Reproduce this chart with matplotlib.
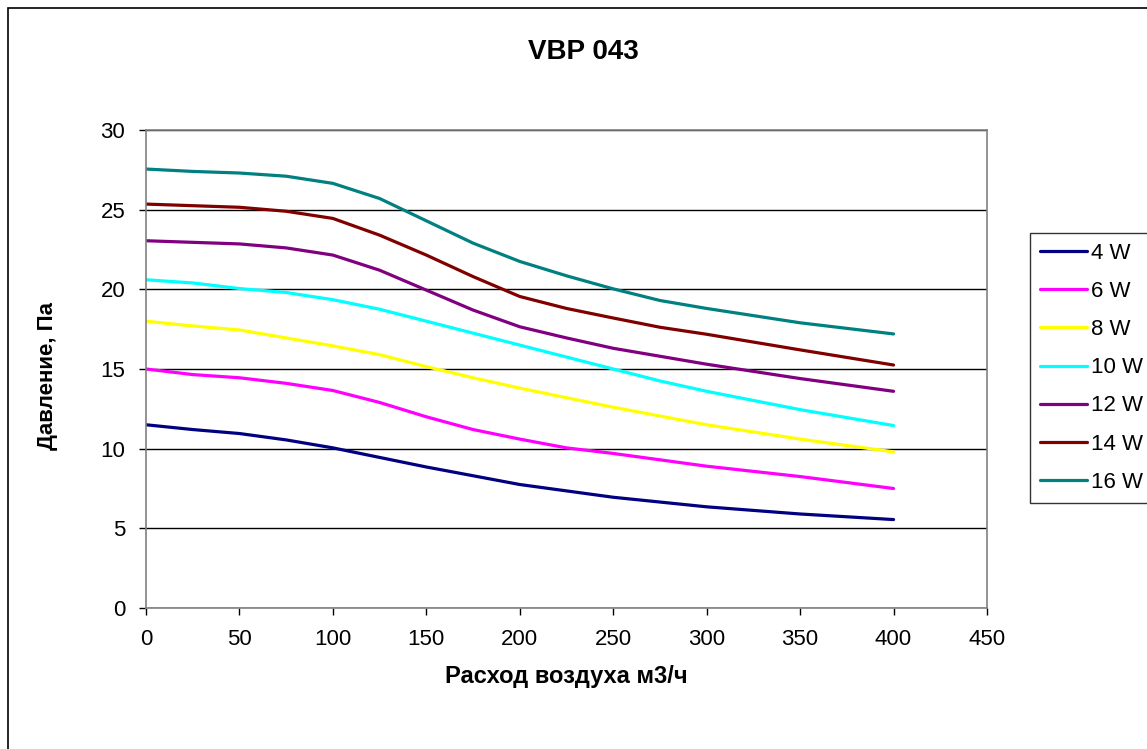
import matplotlib.pyplot as plt
from matplotlib.patches import Rectangle

plt.rcParams['font.family'] = ['Liberation Sans', 'DejaVu Sans']

# airflow, m3/h
flow = [0, 25, 50, 75, 100, 125, 150, 175, 200, 225, 250, 275, 300, 350, 400]

# pressure, Pa
p4 = [11.5, 11.2, 10.95, 10.55, 10.05, 9.45, 8.85, 8.3, 7.75, 7.35, 6.95, 6.65, 6.35, 5.9, 5.55]
p6 = [15.0, 14.65, 14.45, 14.1, 13.65, 12.9, 12.0, 11.2, 10.6, 10.05, 9.7, 9.3, 8.9, 8.25, 7.5]
p8 = [18.0, 17.7, 17.45, 16.95, 16.45, 15.9, 15.15, 14.45, 13.8, 13.2, 12.6, 12.05, 11.5, 10.6, 9.8]
p10 = [20.6, 20.4, 20.05, 19.8, 19.35, 18.75, 18.0, 17.25, 16.5, 15.75, 15.0, 14.25, 13.6, 12.45, 11.45]
p12 = [23.05, 22.95, 22.85, 22.6, 22.15, 21.2, 19.95, 18.7, 17.65, 16.95, 16.3, 15.8, 15.3, 14.4, 13.6]
p14 = [25.35, 25.25, 25.15, 24.9, 24.45, 23.4, 22.15, 20.8, 19.55, 18.8, 18.2, 17.62, 17.18, 16.2, 15.25]
p16 = [27.55, 27.4, 27.3, 27.1, 26.65, 25.7, 24.3, 22.9, 21.75, 20.85, 20.03, 19.3, 18.8, 17.9, 17.2]

labels = ['4 W', '6 W', '8 W', '10 W', '12 W', '14 W', '16 W']
colors = ['#000080', '#FF00FF', '#FFFF00', '#00FFFF', '#800080', '#800000', '#008080']
series = [p4, p6, p8, p10, p12, p14, p16]

W, H = 1147, 749
fig = plt.figure(figsize=(W / 100, H / 100), dpi=100)
ax = fig.add_axes([146 / W, 1 - 608 / H, (987 - 146) / W, (608 - 130) / H])

for y, c, lab in zip(series, colors, labels):
    ax.plot(flow, y, color=c, lw=2.3, label=lab, solid_capstyle='round')

ax.set_xlim(0, 450)
ax.set_ylim(0, 30)
ax.set_xticks(range(0, 451, 50))
ax.set_yticks(range(0, 31, 5))
ax.yaxis.grid(True, color='black', lw=1)
ax.set_axisbelow(True)
for s in ax.spines.values():
    s.set_color('#808080')
    s.set_linewidth(1.2)
ax.tick_params(direction='out', length=5, width=1, color='black', labelsize=16)
ax.tick_params(axis='x', pad=10)
ax.tick_params(axis='y', pad=10)

ax.set_xlabel('Расход воздуха м3/ч', fontsize=17, fontweight='bold', va='center')
ax.set_ylabel('Давление, Па', fontsize=16, fontweight='bold', va='center')
ax.xaxis.set_label_coords(0.5, (608 - 676) / 478)
ax.yaxis.set_label_coords((48 - 146) / 841, 0.5 + (369 - 376) / 478)
fig.text(583 / W, 1 - 52 / H, 'VBP 043', fontsize=20, fontweight='bold',
         ha='center', va='center')

leg = fig.legend(loc='upper left', bbox_to_anchor=(1030 / W, 1 - 233 / H), fontsize=16,
                 frameon=True, fancybox=False, edgecolor='black', handlelength=2.1,
                 handletextpad=0.2, labelspacing=0.77, borderpad=0.45, borderaxespad=0)
leg.get_frame().set_linewidth(1)

# outer chart border
fig.patches.append(Rectangle((8 / W, -0.1), 1.2, 1 - 8 / H + 0.1, transform=fig.transFigure,
                             fill=False, edgecolor='black', lw=1.2))

fig.savefig('out.png', dpi=100)
